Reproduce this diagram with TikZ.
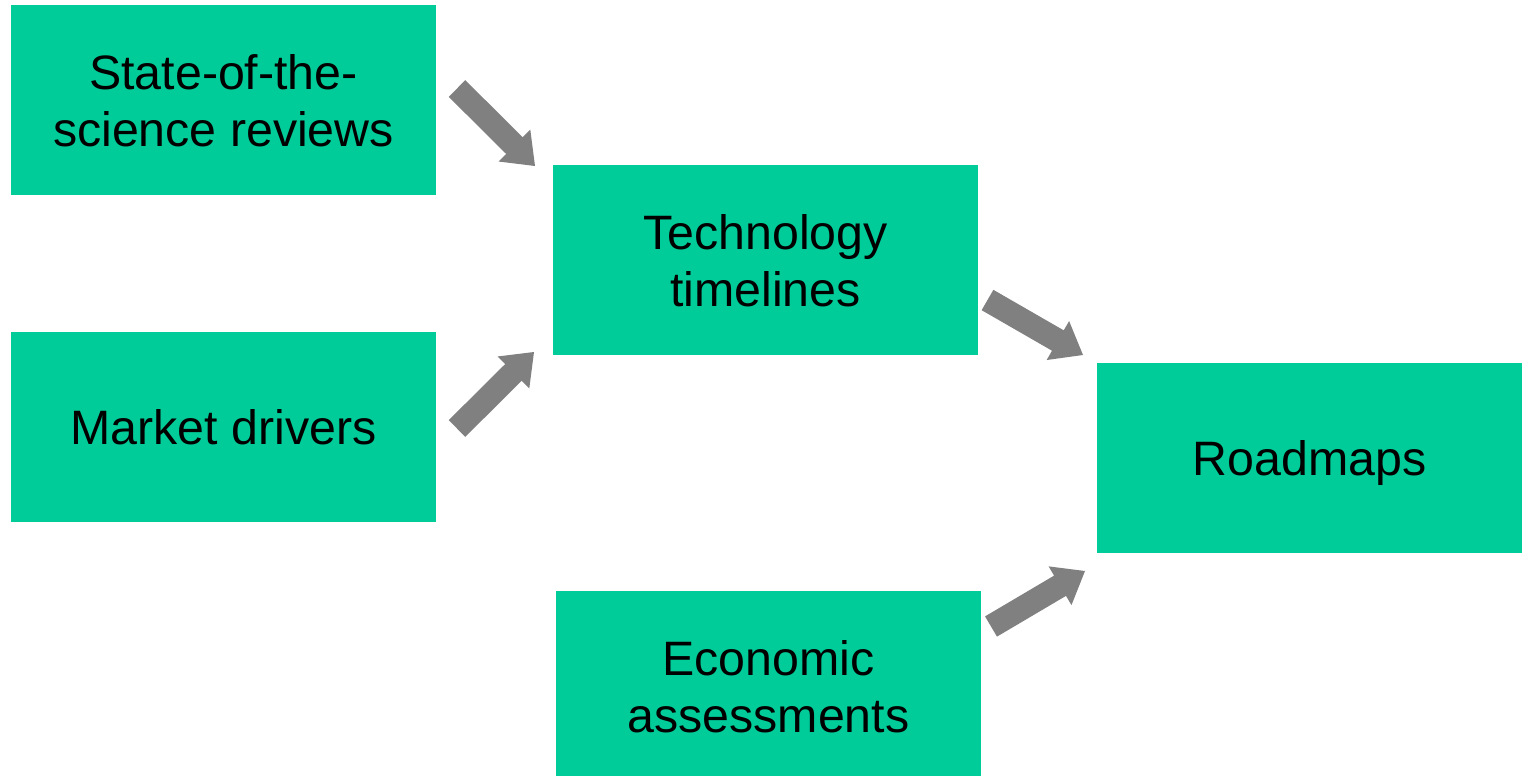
\documentclass[tikz,border=0pt]{standalone}
\usepackage{fontspec}
\setmainfont{Liberation Sans}
\usetikzlibrary{calc}

\definecolor{boxgreen}{RGB}{0,204,153}
\definecolor{arrowgrey}{RGB}{128,128,128}

% Block arrow from coordinate #1 (tail) to coordinate #2 (tip)
\newcommand\blockarrow[2]{%
  \coordinate (#1-#2-h) at ($(#2)!29pt!(#1)$);
  \fill[arrowfill]
    ($(#1)!11.75pt!90:(#2)$) --
    ($(#1-#2-h)!11.75pt!-90:(#1)$) --
    ($(#1-#2-h)!22.5pt!-90:(#1)$) --
    (#2) --
    ($(#1-#2-h)!22.5pt!90:(#1)$) --
    ($(#1-#2-h)!11.75pt!90:(#1)$) --
    ($(#1)!11.75pt!-90:(#2)$) -- cycle;}

\tikzset{
  box/.style={fill=boxgreen, draw=none, inner sep=0pt, outer sep=0pt,
    minimum width=425pt, minimum height=190pt, align=center,
    text depth=0pt, font=\fontsize{48.3}{57}\selectfont},
  arrowfill/.style={fill=arrowgrey, draw=none}
}

\begin{document}
\begin{tikzpicture}[x=1pt, y=-1pt]
  \useasboundingbox (0,0) rectangle (1528,776);

  % boxes
  \node[box] (sci)  at (223.5,100)   {State-of-the-\\science reviews};
  \node[box] (mkt)  at (223.5,427)   {Market drivers};
  \node[box] (tech) at (765.5,260)   {Technology\\timelines};
  \node[box] (road) at (1309.5,458)  {Roadmaps};
  \node[box] (econ) at (768.5,686)   {Economic\\assessments};

  % arrow end points
  \coordinate (a1s) at (457,88.5);   \coordinate (a1e) at (535,166);
  \coordinate (a2s) at (457,428.5);  \coordinate (a2e) at (534,352);
  \coordinate (a3s) at (987.5,300);  \coordinate (a3e) at (1083,355);
  \coordinate (a4s) at (991,626.5);  \coordinate (a4e) at (1085,571);

  \blockarrow{a1s}{a1e}
  \blockarrow{a2s}{a2e}
  \blockarrow{a3s}{a3e}
  \blockarrow{a4s}{a4e}
\end{tikzpicture}
\end{document}
